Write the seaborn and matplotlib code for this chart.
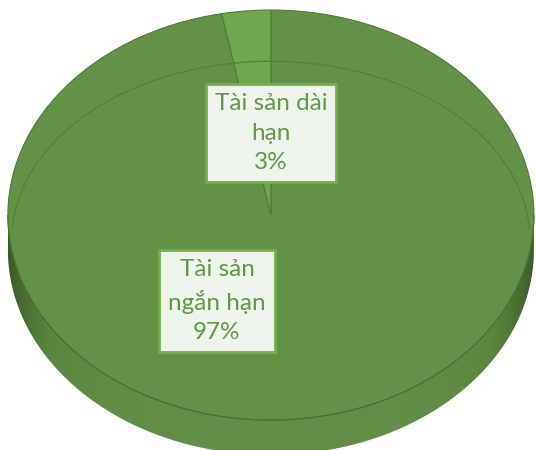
import numpy as np
import matplotlib
matplotlib.use('Agg')
import matplotlib.pyplot as plt
import seaborn as sns
from matplotlib.patches import Polygon

labels = ['Tài sản\nngắn hạn', 'Tài sản dài\nhạn']
values = [97, 3]
face_colors = ['#639246', '#6FA74D']

sns.set_theme(style='white')
plt.rcParams['font.family'] = ['Lato', 'DejaVu Sans']

fig = plt.figure(figsize=(5.36, 4.5), dpi=100)
ax = fig.add_axes([0, 0, 1, 1])

depth = 0.17

# side of the cylinder, shaded darker toward the rims
t = np.linspace(np.pi, 2 * np.pi, 300)
top_edge = np.column_stack([np.cos(t), np.sin(t)])
bottom_edge = np.column_stack([np.cos(t[::-1]), np.sin(t[::-1]) - depth])
side = Polygon(np.vstack([top_edge, bottom_edge]), closed=True,
               facecolor='none', edgecolor='none')
ax.add_patch(side)
xs = np.linspace(-1, 1, 400)
shade = 1 - np.abs(xs) ** 4
grad = np.tile(shade, (20, 1))
cmap = matplotlib.colors.LinearSegmentedColormap.from_list(
    'side', ['#3A5C25', '#5A873D', '#628F45'])
im = ax.imshow(grad, extent=(-1, 1, -1 - depth, 0), cmap=cmap,
               aspect='auto', origin='lower', zorder=1)
im.set_clip_path(side)

wedges, _ = ax.pie(values, colors=face_colors, startangle=90,
                   counterclock=False, radius=1,
                   wedgeprops=dict(edgecolor='#4F7A35', linewidth=0.8))
for w in wedges:
    w.set_zorder(2)

# faint bevel line on the far rim
tb = np.linspace(0.02 * np.pi, 0.98 * np.pi, 200)
ax.plot(0.985 * np.cos(tb), 0.87 * np.sin(tb) - 0.12, color='#54803A',
        lw=0.9, zorder=3)
ax.plot(np.cos(t), np.sin(t), color='#4A7031', lw=0.8, zorder=3)

box = dict(boxstyle='square,pad=0.36', facecolor='#EEF3EB',
           edgecolor='#72B04A', linewidth=2)
label_pos = [(-0.205, -0.42), (0.0, 0.40)]
for lab, val, (lx, ly) in zip(labels, values, label_pos):
    ax.text(lx, ly, f'{lab}\n{val}%', ha='center', va='center',
            multialignment='center', fontsize=17.5, color='#5E9944',
            linespacing=1.5, bbox=box, zorder=5)

ax.set_aspect('auto')
ax.set_xlim(-1.030, 1.008)
ax.set_ylim(-1.146, 1.049)
ax.axis('off')

fig.savefig('out.png', dpi=100)
